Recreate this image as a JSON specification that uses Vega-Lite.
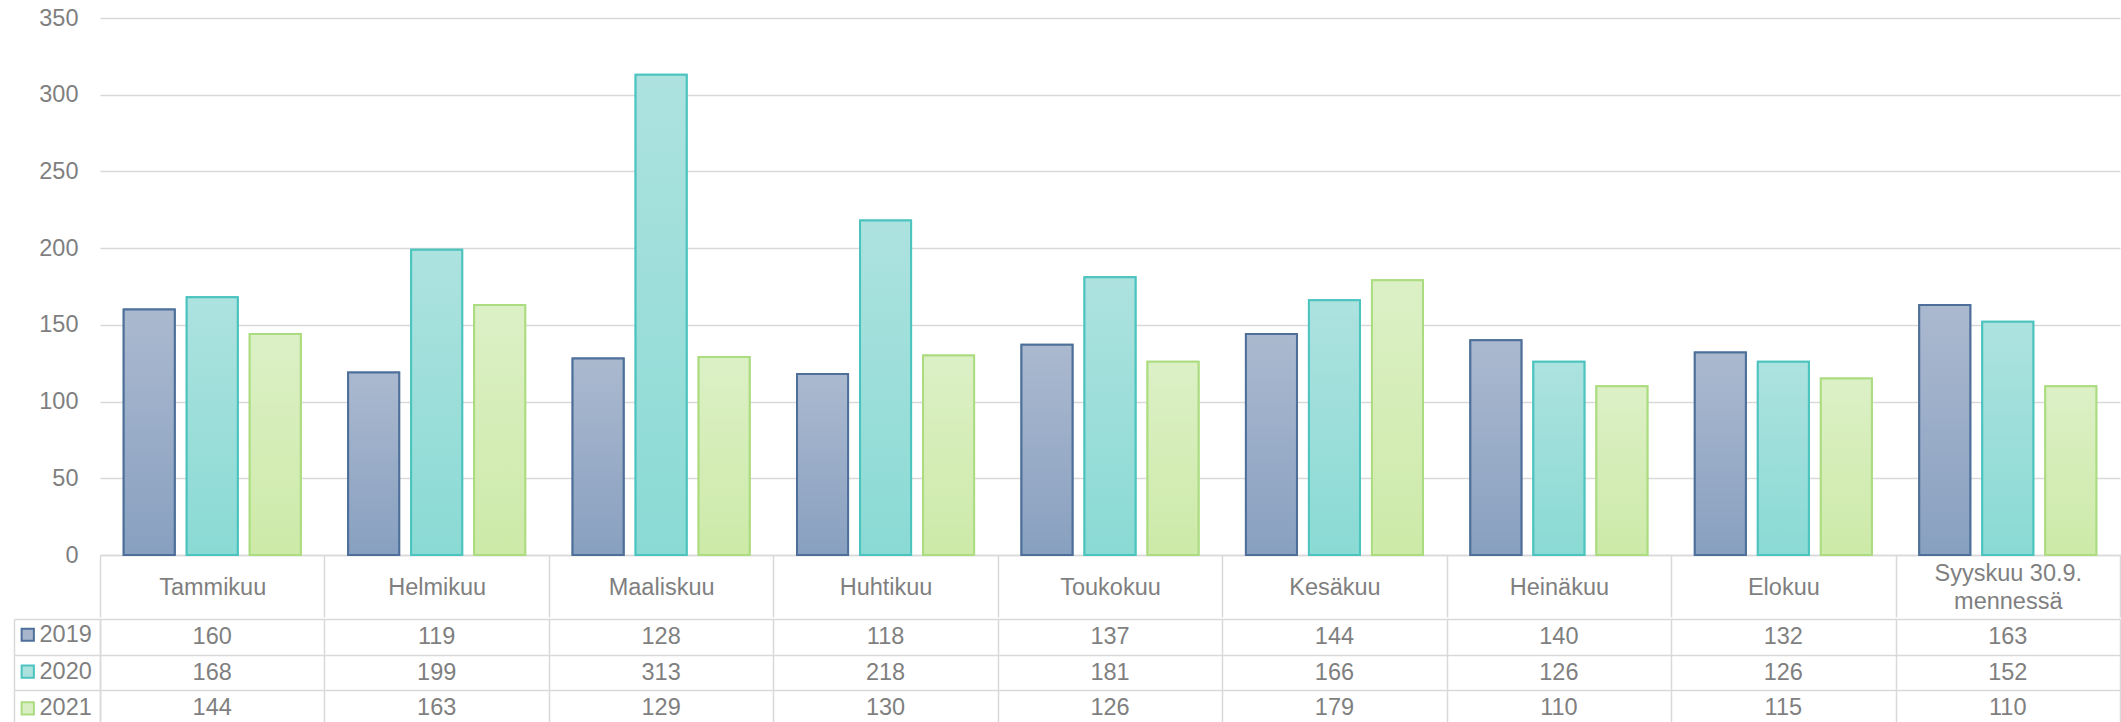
{
  "$schema": "https://vega.github.io/schema/vega-lite/v6.json",
  "padding": {"left": 13, "top": 6, "right": 0, "bottom": 0},
  "background": "white",
  "spacing": 0,
  "config": {
    "font": "Liberation Sans",
    "view": {"stroke": null},
    "axis": {"labelFont": "Liberation Sans", "labelColor": "#7f7f7f", "labelFontSize": 23.5, "title": null},
    "legend": {"labelFont": "Liberation Sans"}
  },
  "data": {
    "values": [
      {"month": "Tammikuu", "year": "2019", "value": 160},
      {"month": "Tammikuu", "year": "2020", "value": 168},
      {"month": "Tammikuu", "year": "2021", "value": 144},
      {"month": "Helmikuu", "year": "2019", "value": 119},
      {"month": "Helmikuu", "year": "2020", "value": 199},
      {"month": "Helmikuu", "year": "2021", "value": 163},
      {"month": "Maaliskuu", "year": "2019", "value": 128},
      {"month": "Maaliskuu", "year": "2020", "value": 313},
      {"month": "Maaliskuu", "year": "2021", "value": 129},
      {"month": "Huhtikuu", "year": "2019", "value": 118},
      {"month": "Huhtikuu", "year": "2020", "value": 218},
      {"month": "Huhtikuu", "year": "2021", "value": 130},
      {"month": "Toukokuu", "year": "2019", "value": 137},
      {"month": "Toukokuu", "year": "2020", "value": 181},
      {"month": "Toukokuu", "year": "2021", "value": 126},
      {"month": "Kesäkuu", "year": "2019", "value": 144},
      {"month": "Kesäkuu", "year": "2020", "value": 166},
      {"month": "Kesäkuu", "year": "2021", "value": 179},
      {"month": "Heinäkuu", "year": "2019", "value": 140},
      {"month": "Heinäkuu", "year": "2020", "value": 126},
      {"month": "Heinäkuu", "year": "2021", "value": 110},
      {"month": "Elokuu", "year": "2019", "value": 132},
      {"month": "Elokuu", "year": "2020", "value": 126},
      {"month": "Elokuu", "year": "2021", "value": 115},
      {"month": "Syyskuu 30.9. mennessä", "year": "2019", "value": 163},
      {"month": "Syyskuu 30.9. mennessä", "year": "2020", "value": 152},
      {"month": "Syyskuu 30.9. mennessä", "year": "2021", "value": 110}
    ]
  },
  "vconcat": [
    {
      "width": 2020,
      "height": 537,
      "encoding": {
        "x": {
          "field": "month", "type": "nominal",
          "scale": {"domain": ["Tammikuu", "Helmikuu", "Maaliskuu", "Huhtikuu", "Toukokuu", "Kesäkuu", "Heinäkuu", "Elokuu", "Syyskuu 30.9. mennessä"], "paddingInner": 0, "paddingOuter": 0},
          "axis": {
            "labelAngle": 0, "tickBand": "extent", "tickSize": 62, "tickColor": "#d9d9d9", "tickWidth": 1.5,
            "domainColor": "#d9d9d9", "domainWidth": 1.5,
            "labelBaseline": {"condition": {"test": "datum.label == 'Syyskuu 30.9. mennessä'", "value": "line-bottom"}, "value": "middle"},
            "labelPadding": -30,
            "labelLineHeight": 28.5, "labelOverlap": false, "labelLimit": 300, "labelFlush": false,
            "labelExpr": "datum.label == 'Syyskuu 30.9. mennessä' ? ['Syyskuu 30.9.', 'mennessä'] : datum.label"
          }
        },
        "xOffset": {"field": "year", "type": "nominal", "scale": {"domain": ["2019", "2020", "2021"], "paddingInner": 0.19, "paddingOuter": 0.376}},
        "y": {
          "field": "value", "type": "quantitative",
          "scale": {"domain": [0, 350], "nice": false},
          "axis": {"values": [0, 50, 100, 150, 200, 250, 300, 350], "ticks": false, "domain": false, "labelPadding": 22, "gridColor": "#d9d9d9", "gridWidth": 1.5}
        }
      },
      "layer": [
        {
          "mark": {"type": "bar", "strokeWidth": 2},
          "encoding": {
            "fill": {
              "field": "year", "type": "nominal",
              "scale": {"domain": ["2019", "2020", "2021"], "range": ["#a8b6cd", "#ace2de", "#d9efc3"]},
              "legend": {"orient": "none", "legendX": -84, "legendY": 605, "title": null, "symbolType": "square", "symbolSize": 150, "symbolStrokeWidth": 2, "labelFontSize": 23.5, "labelColor": "#7f7f7f", "labelOffset": 0, "rowPadding": 11.8, "padding": 0}
            },
            "stroke": {
              "field": "year", "type": "nominal",
              "scale": {"domain": ["2019", "2020", "2021"], "range": ["#4d6f99", "#4bc4bf", "#acdc80"]},
              "legend": {"orient": "none", "legendX": -84, "legendY": 605, "title": null, "symbolType": "square", "symbolSize": 150, "symbolStrokeWidth": 2, "labelFontSize": 23.5, "labelColor": "#7f7f7f", "labelOffset": 0, "rowPadding": 11.8, "padding": 0}
            }
          }
        },
        {
          "transform": [{"filter": "datum.year == '2019'"}],
          "mark": {
            "type": "bar", "stroke": "#4d6f99", "strokeWidth": 2,
            "fill": {"gradient": "linear", "x1": 0, "y1": 0, "x2": 0, "y2": 1, "stops": [{"offset": 0, "color": "#abb9cf"}, {"offset": 1, "color": "#88a0c0"}]}
          }
        },
        {
          "transform": [{"filter": "datum.year == '2020'"}],
          "mark": {
            "type": "bar", "stroke": "#4bc4bf", "strokeWidth": 2,
            "fill": {"gradient": "linear", "x1": 0, "y1": 0, "x2": 0, "y2": 1, "stops": [{"offset": 0, "color": "#ade2df"}, {"offset": 1, "color": "#8adad4"}]}
          }
        },
        {
          "transform": [{"filter": "datum.year == '2021'"}],
          "mark": {
            "type": "bar", "stroke": "#acdc80", "strokeWidth": 2,
            "fill": {"gradient": "linear", "x1": 0, "y1": 0, "x2": 0, "y2": 1, "stops": [{"offset": 0, "color": "#dcf0c6"}, {"offset": 1, "color": "#cdeaa8"}]}
          }
        }
      ]
    },
    {
      "width": 2020,
      "height": 107,
      "encoding": {
        "x": {
          "field": "month", "type": "nominal",
          "scale": {"domain": ["Tammikuu", "Helmikuu", "Maaliskuu", "Huhtikuu", "Toukokuu", "Kesäkuu", "Heinäkuu", "Elokuu", "Syyskuu 30.9. mennessä"], "paddingInner": 0, "paddingOuter": 0},
          "axis": {"orient": "bottom", "labels": false, "ticks": false, "domain": false, "grid": true, "gridColor": "#d9d9d9", "gridWidth": 1.5, "tickBand": "extent", "minExtent": 0, "maxExtent": 0}
        }
      },
      "layer": [
        {
          "mark": {"type": "text", "fontSize": 23.5, "color": "#7f7f7f"},
          "encoding": {
            "y": {
              "field": "year", "type": "nominal",
              "scale": {"domain": ["2019", "2020", "2021"], "paddingInner": 0, "paddingOuter": 0},
              "axis": {"labels": false, "ticks": true, "tickSize": 86, "tickColor": "#d9d9d9", "tickWidth": 1.5, "tickBand": "extent", "grid": true, "gridColor": "#d9d9d9", "gridWidth": 1.5, "domain": true, "domainColor": "#d9d9d9", "domainWidth": 1.5}
            },
            "text": {"field": "value", "type": "quantitative"}
          }
        },
        {
          "mark": {"type": "rect", "opacity": 0},
          "encoding": {
            "y": {
              "field": "year", "type": "nominal",
              "scale": {"domain": ["2019", "2020", "2021"], "paddingInner": 0, "paddingOuter": 0},
              "axis": {"orient": "left", "offset": 86, "labels": false, "ticks": false, "grid": false, "domain": true, "domainColor": "#d9d9d9", "domainWidth": 1.5}
            }
          }
        }
      ],
      "resolve": {"axis": {"y": "independent"}}
    }
  ]
}
